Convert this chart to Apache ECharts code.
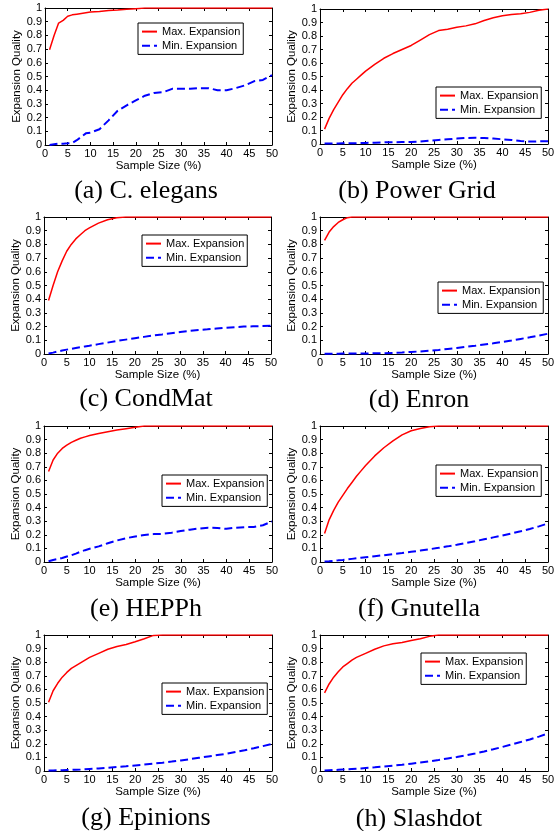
<!DOCTYPE html>
<html>
<head>
<meta charset="utf-8">
<title>Expansion Quality</title>
<script src="https://cdn.jsdelivr.net/npm/echarts@6/dist/echarts.min.js"></script>
<style>
  html, body { margin: 0; padding: 0; background: #fff; }
  #chart { width: 560px; height: 831px; }
</style>
</head>
<body>
<div id="chart"></div>
<script>
// sample sizes (%) shared by all panels
const sampleSizes = [1, 2, 3, 4, 5, 6, 7, 8, 9, 10, 12, 14, 16, 18, 20, 22, 24, 26, 28, 30, 32, 34, 36, 38, 40, 42, 44, 46, 48, 50]

const maxElegans = [0.695, 0.8, 0.89, 0.91, 0.94, 0.95, 0.955, 0.96, 0.965, 0.97, 0.975, 0.982, 0.985, 0.99, 0.995, 1, 1, 1, 1, 1, 1, 1, 1, 1, 1, 1, 1, 1, 1, 1]
const minElegans = [0, 0.005, 0.01, 0.01, 0.012, 0.015, 0.035, 0.06, 0.085, 0.09, 0.115, 0.18, 0.25, 0.29, 0.325, 0.36, 0.38, 0.385, 0.41, 0.41, 0.41, 0.415, 0.415, 0.4, 0.4, 0.415, 0.435, 0.465, 0.475, 0.51]

const maxPower = [0.11, 0.19, 0.255, 0.31, 0.365, 0.41, 0.45, 0.48, 0.51, 0.54, 0.59, 0.635, 0.67, 0.7, 0.73, 0.77, 0.81, 0.84, 0.85, 0.865, 0.875, 0.89, 0.915, 0.935, 0.95, 0.96, 0.965, 0.975, 0.99, 1]
const minPower = [0.003, 0.003, 0.004, 0.004, 0.005, 0.005, 0.006, 0.006, 0.007, 0.008, 0.01, 0.012, 0.013, 0.014, 0.015, 0.018, 0.025, 0.03, 0.035, 0.04, 0.045, 0.046, 0.044, 0.04, 0.035, 0.03, 0.022, 0.018, 0.02, 0.02]

const maxCondMat = [0.39, 0.5, 0.6, 0.68, 0.75, 0.8, 0.84, 0.87, 0.9, 0.92, 0.955, 0.98, 0.995, 1, 1, 1, 1, 1, 1, 1, 1, 1, 1, 1, 1, 1, 1, 1, 1, 1]
const minCondMat = [0.003, 0.01, 0.018, 0.025, 0.032, 0.038, 0.044, 0.05, 0.055, 0.06, 0.072, 0.083, 0.095, 0.105, 0.115, 0.125, 0.135, 0.143, 0.152, 0.16, 0.168, 0.175, 0.18, 0.186, 0.192, 0.196, 0.2, 0.202, 0.204, 0.206]

const maxEnron = [0.83, 0.89, 0.93, 0.96, 0.98, 0.995, 1, 1, 1, 1, 1, 1, 1, 1, 1, 1, 1, 1, 1, 1, 1, 1, 1, 1, 1, 1, 1, 1, 1, 1]
const minEnron = [0.002, 0.002, 0.002, 0.002, 0.003, 0.003, 0.003, 0.003, 0.004, 0.004, 0.005, 0.006, 0.008, 0.011, 0.015, 0.019, 0.024, 0.03, 0.037, 0.044, 0.052, 0.06, 0.069, 0.078, 0.088, 0.098, 0.11, 0.122, 0.135, 0.148]

const maxHepph = [0.665, 0.75, 0.8, 0.835, 0.86, 0.88, 0.895, 0.91, 0.92, 0.93, 0.945, 0.958, 0.97, 0.98, 0.99, 1, 1, 1, 1, 1, 1, 1, 1, 1, 1, 1, 1, 1, 1, 1]
const minHepph = [0.005, 0.015, 0.022, 0.03, 0.04, 0.05, 0.062, 0.075, 0.087, 0.097, 0.115, 0.138, 0.158, 0.175, 0.188, 0.198, 0.205, 0.207, 0.215, 0.228, 0.238, 0.246, 0.252, 0.25, 0.244, 0.252, 0.256, 0.258, 0.27, 0.298]

const maxGnutella = [0.21, 0.31, 0.38, 0.44, 0.49, 0.54, 0.585, 0.63, 0.67, 0.71, 0.78, 0.84, 0.89, 0.935, 0.965, 0.982, 0.995, 1, 1, 1, 1, 1, 1, 1, 1, 1, 1, 1, 1, 1]
const minGnutella = [0.003, 0.005, 0.008, 0.012, 0.015, 0.019, 0.023, 0.027, 0.031, 0.035, 0.043, 0.05, 0.058, 0.066, 0.075, 0.084, 0.094, 0.104, 0.115, 0.127, 0.14, 0.153, 0.167, 0.181, 0.195, 0.21, 0.226, 0.243, 0.262, 0.284]

const maxEpinions = [0.505, 0.59, 0.645, 0.69, 0.725, 0.755, 0.775, 0.795, 0.815, 0.835, 0.865, 0.895, 0.915, 0.93, 0.95, 0.972, 0.997, 1, 1, 1, 1, 1, 1, 1, 1, 1, 1, 1, 1, 1]
const minEpinions = [0.003, 0.004, 0.005, 0.006, 0.007, 0.008, 0.01, 0.011, 0.013, 0.015, 0.019, 0.024, 0.03, 0.035, 0.041, 0.047, 0.054, 0.061, 0.069, 0.078, 0.087, 0.097, 0.107, 0.117, 0.127, 0.14, 0.153, 0.167, 0.183, 0.2]

const maxSlashdot = [0.575, 0.64, 0.69, 0.73, 0.765, 0.79, 0.815, 0.835, 0.85, 0.865, 0.895, 0.92, 0.935, 0.945, 0.96, 0.973, 0.99, 1, 1, 1, 1, 1, 1, 1, 1, 1, 1, 1, 1, 1]
const minSlashdot = [0.003, 0.005, 0.007, 0.009, 0.011, 0.013, 0.015, 0.017, 0.019, 0.022, 0.027, 0.033, 0.039, 0.046, 0.054, 0.062, 0.071, 0.081, 0.092, 0.103, 0.116, 0.129, 0.144, 0.16, 0.177, 0.195, 0.213, 0.232, 0.253, 0.276]

const captions = ['(a) C. elegans', '(b) Power Grid', '(c) CondMat', '(d) Enron', '(e) HEPPh', '(f) Gnutella', '(g) Epinions', '(h) Slashdot']
const maxSeries = [maxElegans, maxPower, maxCondMat, maxEnron, maxHepph, maxGnutella, maxEpinions, maxSlashdot]
const minSeries = [minElegans, minPower, minCondMat, minEnron, minHepph, minGnutella, minEpinions, minSlashdot]

// panel placement (page px)
const panelBoxes = [
  { left: 45, top: 8, width: 227, height: 137, legend: [138, 23], caption: [146, 178] },
  { left: 320, top: 9, width: 228, height: 135, legend: [436, 87], caption: [417, 178] },
  { left: 44, top: 217, width: 227, height: 137, legend: [142, 235], caption: [146, 386] },
  { left: 320, top: 217, width: 228, height: 137, legend: [438, 282], caption: [419, 387] },
  { left: 44, top: 426, width: 228, height: 136, legend: [162, 475], caption: [146, 596] },
  { left: 320, top: 426, width: 228, height: 136, legend: [436, 465], caption: [419, 596] },
  { left: 44, top: 635, width: 228, height: 136, legend: [162, 683], caption: [146, 805] },
  { left: 320, top: 635, width: 228, height: 136, legend: [421, 653], caption: [419, 806] },
]

const sansFont = '"Liberation Sans", Arial, Helvetica, sans-serif'
const serifFont = '"Liberation Serif", "Times New Roman", serif'
const black = '#000'

function pairs(values) {
  return sampleSizes.map((x, i) => [x, values[i]])
}

function buildOption() {
  const grid = []
  const xAxis = []
  const yAxis = []
  const series = []
  const legend = []
  const title = []

  panelBoxes.forEach((box, i) => {
    grid.push({ left: box.left, top: box.top, width: box.width, height: box.height })

    const tick = { show: true, inside: true, length: 3, lineStyle: { color: black, width: 1 } }
    // onZero off so the top/right axes close the box
    const line = { show: true, onZero: false, lineStyle: { color: black, width: 1 } }

    // bottom axis with labels, top axis only for the box ticks
    xAxis.push({
      type: 'value', gridIndex: i, position: 'bottom', min: 0, max: 50, interval: 5,
      axisLine: line, axisTick: tick, splitLine: { show: false },
      axisLabel: { color: black, fontFamily: sansFont, fontSize: 11, margin: 3 },
      name: 'Sample Size (%)', nameLocation: 'middle', nameGap: 12,
      nameTextStyle: { color: black, fontFamily: sansFont, fontSize: 11.5 },
    })
    xAxis.push({
      type: 'value', gridIndex: i, position: 'top', min: 0, max: 50, interval: 5,
      axisLine: line, axisTick: tick, axisLabel: { show: false }, splitLine: { show: false },
    })
    yAxis.push({
      type: 'value', gridIndex: i, position: 'left', min: 0, max: 1, interval: 0.1,
      axisLine: line, axisTick: tick, splitLine: { show: false },
      axisLabel: { color: black, fontFamily: sansFont, fontSize: 11, margin: 3 },
      name: 'Expansion Quality', nameLocation: 'middle', nameGap: 17, nameRotate: 90,
      nameTextStyle: { color: black, fontFamily: sansFont, fontSize: 11.5 },
    })
    yAxis.push({
      type: 'value', gridIndex: i, position: 'right', min: 0, max: 1, interval: 0.1,
      axisLine: line, axisTick: tick, axisLabel: { show: false }, splitLine: { show: false },
    })

    series.push({
      name: 'Max. Expansion', type: 'line', xAxisIndex: 2 * i, yAxisIndex: 2 * i,
      data: pairs(maxSeries[i]), symbol: 'none', smooth: false,
      lineStyle: { color: '#ff0000', width: 1.5 }, itemStyle: { color: '#ff0000' },
    })
    series.push({
      name: 'Min. Expansion', type: 'line', xAxisIndex: 2 * i, yAxisIndex: 2 * i,
      data: pairs(minSeries[i]), symbol: 'none', smooth: false,
      lineStyle: { color: '#0000ff', width: 2, type: [8, 4] }, itemStyle: { color: '#0000ff' },
    })

    legend.push({
      left: box.legend[0], top: box.legend[1], orient: 'vertical',
      data: ['Max. Expansion', 'Min. Expansion'],
      backgroundColor: '#fff', borderColor: black, borderWidth: 1,
      padding: [3, 3, 3, 3], itemGap: 3, itemWidth: 15, itemHeight: 14,
      itemStyle: { opacity: 0 },
      textStyle: { color: black, fontFamily: sansFont, fontSize: 11 },
      selectedMode: false,
    })

    title.push({
      text: captions[i], left: box.caption[0], top: box.caption[1], textAlign: 'center',
      textStyle: { color: black, fontFamily: serifFont, fontSize: 26, fontWeight: 'normal' },
      padding: 0,
    })
  })

  return { animation: false, backgroundColor: '#fff', title, legend, grid, xAxis, yAxis, series }
}

const chart = echarts.init(document.getElementById('chart'), null, { renderer: 'canvas' })
chart.setOption(buildOption())
</script>
</body>
</html>
